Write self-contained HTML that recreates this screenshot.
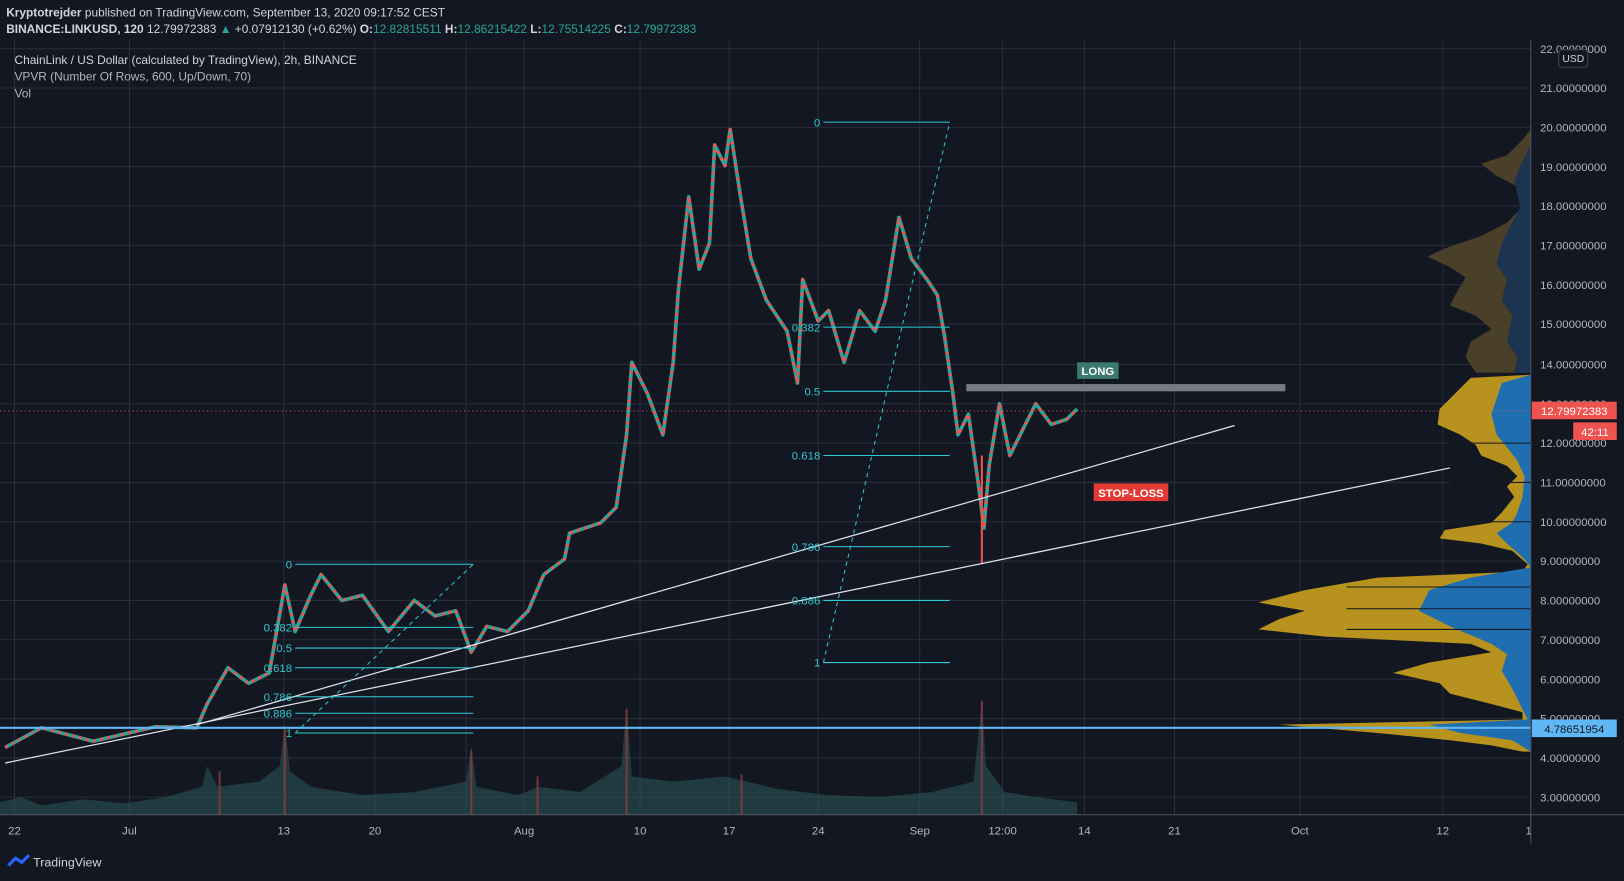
<!DOCTYPE html>
<html><head><meta charset="utf-8"><style>
html,body{margin:0;padding:0;background:#131722;}
svg{display:block}
text{font-family:"Liberation Sans",sans-serif;}
</style></head><body>
<svg width="1624" height="881" viewBox="0 0 1568 851" preserveAspectRatio="none" xmlns="http://www.w3.org/2000/svg">
<rect width="1568" height="851" fill="#131722"/>
<text x="6" y="16" font-size="11.5" fill="#d1d4dc"><tspan font-weight="bold">Kryptotrejder</tspan> published on TradingView.com, September 13, 2020 09:17:52 CEST</text>
<text x="6" y="32" font-size="11.5" fill="#d1d4dc"><tspan font-weight="bold">BINANCE:LINKUSD, 120</tspan> 12.79972383 <tspan fill="#26a69a">▲</tspan> +0.07912130 (+0.62%) <tspan font-weight="bold">O:</tspan><tspan fill="#26a69a">12.82815511</tspan> <tspan font-weight="bold">H:</tspan><tspan fill="#26a69a">12.86215422</tspan> <tspan font-weight="bold">L:</tspan><tspan fill="#26a69a">12.75514225</tspan> <tspan font-weight="bold">C:</tspan><tspan fill="#26a69a">12.79972383</tspan></text>
<g stroke="#2a2e39" stroke-width="1">
<line x1="0" y1="47" x2="1478" y2="47"/><line x1="0" y1="85" x2="1478" y2="85"/><line x1="0" y1="123" x2="1478" y2="123"/><line x1="0" y1="161" x2="1478" y2="161"/><line x1="0" y1="199" x2="1478" y2="199"/><line x1="0" y1="237" x2="1478" y2="237"/><line x1="0" y1="275" x2="1478" y2="275"/><line x1="0" y1="313" x2="1478" y2="313"/><line x1="0" y1="352" x2="1478" y2="352"/><line x1="0" y1="390" x2="1478" y2="390"/><line x1="0" y1="428" x2="1478" y2="428"/><line x1="0" y1="466" x2="1478" y2="466"/><line x1="0" y1="504" x2="1478" y2="504"/><line x1="0" y1="542" x2="1478" y2="542"/><line x1="0" y1="580" x2="1478" y2="580"/><line x1="0" y1="618" x2="1478" y2="618"/><line x1="0" y1="656" x2="1478" y2="656"/><line x1="0" y1="694" x2="1478" y2="694"/><line x1="0" y1="732" x2="1478" y2="732"/><line x1="0" y1="770" x2="1478" y2="770"/>
<line x1="14" y1="39" x2="14" y2="787"/><line x1="125" y1="39" x2="125" y2="787"/><line x1="274" y1="39" x2="274" y2="787"/><line x1="362" y1="39" x2="362" y2="787"/><line x1="450" y1="39" x2="450" y2="787"/><line x1="506" y1="39" x2="506" y2="787"/><line x1="618" y1="39" x2="618" y2="787"/><line x1="704" y1="39" x2="704" y2="787"/><line x1="790" y1="39" x2="790" y2="787"/><line x1="888" y1="39" x2="888" y2="787"/><line x1="968" y1="39" x2="968" y2="787"/><line x1="1047" y1="39" x2="1047" y2="787"/><line x1="1134" y1="39" x2="1134" y2="787"/><line x1="1255" y1="39" x2="1255" y2="787"/><line x1="1393" y1="39" x2="1393" y2="787"/>
</g>
<text x="14" y="62" font-size="11.5" fill="#d1d4dc">ChainLink / US Dollar (calculated by TradingView), 2h, BINANCE</text>
<text x="14" y="78" font-size="11.5" fill="#b2b5be">VPVR (Number Of Rows, 600, Up/Down, 70)</text>
<text x="14" y="94" font-size="11.5" fill="#b2b5be">Vol</text>
<polygon fill="#4a3f28" points="1478,125 1470,135 1455,150 1430,158 1445,170 1465,180 1470,200 1455,215 1430,228 1395,240 1378,248 1400,258 1415,268 1405,285 1400,295 1425,305 1440,318 1420,330 1415,345 1425,360 1478,360"/>
<polygon fill="#1c3450" points="1478,140 1468,160 1462,175 1468,200 1460,215 1450,235 1445,255 1455,270 1450,290 1460,305 1455,330 1465,345 1462,360 1478,360"/>
<polygon fill="#b8921e" points="1478,362 1420,365 1410,375 1400,385 1390,395 1388,410 1410,420 1425,430 1430,440 1455,450 1465,460 1455,470 1462,480 1450,495 1440,505 1395,512 1390,520 1430,525 1460,532 1475,545 1470,552 1330,558 1260,570 1215,582 1260,590 1235,598 1215,608 1280,615 1420,622 1440,630 1380,640 1345,650 1390,660 1400,670 1440,680 1470,688 1470,695 1235,700 1330,708 1400,715 1440,720 1470,726 1478,726"/>
<polygon fill="#1f6fb0" points="1478,362 1450,370 1445,385 1440,400 1445,420 1455,432 1465,445 1472,460 1470,480 1465,495 1460,505 1445,515 1455,525 1472,540 1478,548 1420,558 1380,570 1370,590 1400,605 1440,622 1455,632 1450,648 1460,665 1470,685 1475,695 1380,700 1410,708 1460,715 1478,726"/>
<g stroke="#131722" stroke-width="1"><line x1="1300" y1="567" x2="1478" y2="567"/><line x1="1300" y1="588" x2="1478" y2="588"/><line x1="1300" y1="608" x2="1478" y2="608"/><line x1="1400" y1="428" x2="1478" y2="428"/><line x1="1400" y1="466" x2="1478" y2="466"/><line x1="1400" y1="504" x2="1478" y2="504"/></g>
<polygon fill="#2b5a57" opacity="0.55" points="0,787 0,775 20,770 40,778 80,772 120,776 160,770 195,760 200,740 210,760 250,755 270,740 275,700 280,745 300,760 350,768 400,765 450,755 455,720 460,760 500,768 520,760 560,765 600,740 605,680 610,750 650,755 700,750 750,762 800,768 850,770 900,765 940,755 948,677 952,740 970,765 1000,770 1040,775 1040,787"/>
<g stroke="#8c3a3a" stroke-width="2" opacity="0.8"><line x1="275" y1="787" x2="275" y2="705"/><line x1="605" y1="787" x2="605" y2="685"/><line x1="948" y1="787" x2="948" y2="677"/><line x1="212" y1="787" x2="212" y2="745"/><line x1="455" y1="787" x2="455" y2="725"/><line x1="519" y1="787" x2="519" y2="750"/><line x1="716" y1="787" x2="716" y2="748"/></g>
<polyline fill="none" stroke="#26a69a" stroke-width="3.5" stroke-linejoin="round" points="5,722 40,703 90,716 150,702 190,703 200,680 220,645 240,660 260,650 275,565 285,610 300,575 310,555 330,580 350,575 375,610 400,580 420,595 440,590 455,630 470,605 490,610 510,590 525,555 545,540 550,515 580,505 595,490 605,420 610,350 625,380 640,420 650,350 655,280 665,190 675,260 685,235 690,140 700,160 705,125 715,190 725,250 740,290 760,320 770,370 775,270 790,310 800,300 815,350 830,300 845,320 855,290 868,210 880,250 895,270 905,285 912,325 920,380 925,420 935,400 945,470 950,510 955,450 965,390 975,440 985,420 1000,390 1015,410 1030,405 1040,395"/>
<polyline fill="none" stroke="#ef5350" stroke-width="3" stroke-dasharray="3 4" stroke-linejoin="round" points="5,722 40,703 90,716 150,702 190,703 200,680 220,645 240,660 260,650 275,565 285,610 300,575 310,555 330,580 350,575 375,610 400,580 420,595 440,590 455,630 470,605 490,610 510,590 525,555 545,540 550,515 580,505 595,490 605,420 610,350 625,380 640,420 650,350 655,280 665,190 675,260 685,235 690,140 700,160 705,125 715,190 725,250 740,290 760,320 770,370 775,270 790,310 800,300 815,350 830,300 845,320 855,290 868,210 880,250 895,270 905,285 912,325 920,380 925,420 935,400 945,470 950,510 955,450 965,390 975,440 985,420 1000,390 1015,410 1030,405 1040,395"/>
<line x1="948" y1="440" x2="948" y2="545" stroke="#ef5350" stroke-width="2"/>
<line x1="5" y1="737" x2="1400" y2="452" stroke="#e0e3eb" stroke-width="1.2"/>
<line x1="190" y1="700" x2="1192" y2="411" stroke="#e0e3eb" stroke-width="1.2"/>
<line x1="0" y1="703" x2="1478" y2="703" stroke="#5fb7f5" stroke-width="2"/>
<line x1="0" y1="397" x2="1478" y2="397" stroke="#ef5350" stroke-width="1" stroke-dasharray="1 3"/>
<g stroke="#2dc8d2" stroke-width="1">
<line x1="285" y1="545" x2="457" y2="545"/><line x1="285" y1="606" x2="457" y2="606"/><line x1="285" y1="626" x2="457" y2="626"/><line x1="285" y1="645" x2="457" y2="645"/><line x1="285" y1="673" x2="457" y2="673"/><line x1="285" y1="689" x2="457" y2="689"/><line x1="285" y1="708" x2="457" y2="708"/>
<line x1="285" y1="708" x2="457" y2="545" stroke-dasharray="4 4"/>
<line x1="795" y1="118" x2="917" y2="118"/><line x1="795" y1="316" x2="917" y2="316"/><line x1="795" y1="378" x2="917" y2="378"/><line x1="795" y1="440" x2="917" y2="440"/><line x1="795" y1="528" x2="917" y2="528"/><line x1="795" y1="580" x2="917" y2="580"/><line x1="795" y1="640" x2="917" y2="640"/>
<line x1="795" y1="640" x2="917" y2="118" stroke-dasharray="4 4"/>
</g>
<g font-size="11" fill="#2dc8d2" text-anchor="end">
<text x="282" y="549">0</text><text x="282" y="610">0.382</text><text x="282" y="630">0.5</text><text x="282" y="649">0.618</text><text x="282" y="677">0.786</text><text x="282" y="693">0.886</text><text x="282" y="712">1</text>
<text x="792" y="122">0</text><text x="792" y="320">0.382</text><text x="792" y="382">0.5</text><text x="792" y="444">0.618</text><text x="792" y="532">0.786</text><text x="792" y="584">0.886</text><text x="792" y="644">1</text>
</g>
<rect x="933" y="371" width="308" height="7" fill="#787b86"/>
<rect x="1040" y="350" width="40" height="16" fill="#3d7a6e"/>
<text x="1060" y="362" font-size="11" font-weight="bold" fill="#fff" text-anchor="middle">LONG</text>
<rect x="1056" y="467" width="72" height="17" fill="#e53935"/>
<text x="1092" y="480" font-size="11" font-weight="bold" fill="#fff" text-anchor="middle">STOP-LOSS</text>
<line x1="1478" y1="39" x2="1478" y2="815" stroke="#50535e"/>
<line x1="0" y1="787" x2="1568" y2="787" stroke="#50535e"/>
<g font-size="11" fill="#b2b5be">
<text x="1487" y="51">22.00000000</text><text x="1487" y="89">21.00000000</text><text x="1487" y="127">20.00000000</text><text x="1487" y="165">19.00000000</text><text x="1487" y="203">18.00000000</text><text x="1487" y="241">17.00000000</text><text x="1487" y="279">16.00000000</text><text x="1487" y="317">15.00000000</text><text x="1487" y="356">14.00000000</text><text x="1487" y="394">13.00000000</text><text x="1487" y="432">12.00000000</text><text x="1487" y="470">11.00000000</text><text x="1487" y="508">10.00000000</text><text x="1487" y="546">9.00000000</text><text x="1487" y="584">8.00000000</text><text x="1487" y="622">7.00000000</text><text x="1487" y="660">6.00000000</text><text x="1487" y="698">5.00000000</text><text x="1487" y="736">4.00000000</text><text x="1487" y="774">3.00000000</text>
</g>
<rect x="1505" y="48" width="28" height="17" rx="3" fill="#131722" stroke="#434651"/>
<text x="1519" y="60" font-size="10" fill="#d1d4dc" text-anchor="middle">USD</text>
<rect x="1479" y="388" width="82" height="17" fill="#ef5350"/>
<text x="1520" y="401" font-size="11" fill="#fff" text-anchor="middle">12.79972383</text>
<rect x="1519" y="408" width="42" height="17" fill="#ef5350"/>
<text x="1540" y="421" font-size="11" fill="#fff" text-anchor="middle">42:11</text>
<rect x="1479" y="695" width="82" height="17" fill="#5fb7f5"/>
<text x="1520" y="708" font-size="11" fill="#131722" text-anchor="middle">4.78651954</text>
<g font-size="11" fill="#b2b5be" text-anchor="middle">
<text x="14" y="806">22</text><text x="125" y="806">Jul</text><text x="274" y="806">13</text><text x="362" y="806">20</text><text x="506" y="806">Aug</text><text x="618" y="806">10</text><text x="704" y="806">17</text><text x="790" y="806">24</text><text x="888" y="806">Sep</text><text x="968" y="806">12:00</text><text x="1047" y="806">14</text><text x="1134" y="806">21</text><text x="1255" y="806">Oct</text><text x="1393" y="806">12</text><text x="1476" y="806">1</text>
</g>
<path d="M8,836 l7,-7 l6,4 l7,-7" stroke="#2962ff" stroke-width="3" fill="none"/>
<text x="32" y="837" font-size="12" fill="#d1d4dc">TradingView</text>
</svg>
</body></html>
